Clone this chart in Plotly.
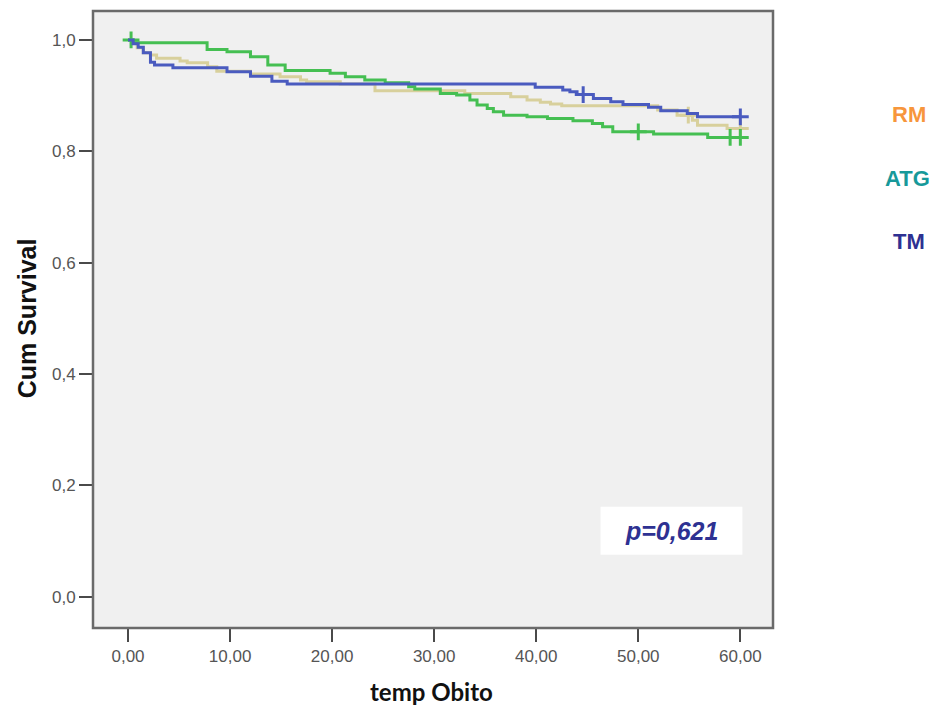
import plotly.graph_objects as go

# Kaplan-Meier step curves: time (months) at which each level starts, and cumulative survival
rm_time = [0, 0.5, 0.9, 1.5, 2.2, 2.8, 5.1, 5.8, 7.8, 8.7, 12.0, 14.9, 16.9, 17.5, 20.8,
           24.2, 33.0, 37.5, 39.1, 40.4, 41.4, 42.5, 51.9, 53.8, 55.3, 55.8, 58.7, 60.0]
rm_surv = [1.0, 0.995, 0.986, 0.977, 0.973, 0.967, 0.962, 0.959, 0.952, 0.944, 0.939, 0.934,
           0.928, 0.925, 0.921, 0.909, 0.904, 0.898, 0.892, 0.888, 0.885, 0.882, 0.874, 0.865,
           0.856, 0.847, 0.841, 0.841]
rm_cens_time = [54.9, 60.0]
rm_cens_surv = [0.865, 0.841]

atg_time = [0, 0.5, 7.75, 9.7, 12.0, 13.7, 15.4, 19.8, 21.3, 23.2, 25.2, 27.5, 28.1, 30.6,
            32.2, 33.5, 34.2, 35.2, 35.8, 36.8, 39.1, 41.1, 43.6, 45.5, 46.5, 47.5, 51.5,
            56.8, 60.0]
atg_surv = [1.0, 0.995, 0.983, 0.979, 0.970, 0.955, 0.945, 0.940, 0.934, 0.928, 0.923, 0.916,
            0.912, 0.904, 0.901, 0.892, 0.883, 0.877, 0.871, 0.865, 0.862, 0.859, 0.855, 0.850,
            0.844, 0.835, 0.831, 0.825, 0.825]
atg_cens_time = [0.3, 50.0, 59.0, 60.0]
atg_cens_surv = [1.0, 0.835, 0.825, 0.825]

tm_time = [0, 0.5, 1.0, 1.5, 2.2, 2.6, 4.4, 9.7, 12.0, 14.1, 15.6, 39.9, 42.6, 43.3, 44.0,
           45.6, 47.3, 48.5, 51.0, 52.2, 54.8, 55.8, 60.0]
tm_surv = [1.0, 0.993, 0.987, 0.977, 0.960, 0.955, 0.950, 0.943, 0.935, 0.926, 0.921, 0.915,
           0.910, 0.907, 0.902, 0.895, 0.889, 0.884, 0.879, 0.873, 0.868, 0.862, 0.862]
tm_cens_time = [44.6, 60.0]
tm_cens_surv = [0.902, 0.862]

x_ticks = [0, 10, 20, 30, 40, 50, 60]
y_ticks = [0.0, 0.2, 0.4, 0.6, 0.8, 1.0]
p_value_text = "p=0,621"

C_RM = "#d8d09c"
C_ATG = "#45bf52"
C_TM = "#4a5bbf"

fig = go.Figure()

for t, s, ct, cs, col in [
    (rm_time, rm_surv, rm_cens_time, rm_cens_surv, C_RM),
    (atg_time, atg_surv, atg_cens_time, atg_cens_surv, C_ATG),
    (tm_time, tm_surv, tm_cens_time, tm_cens_surv, C_TM),
]:
    fig.add_trace(go.Scatter(x=t, y=s, mode="lines", line=dict(color=col, width=3, shape="hv"),
                             showlegend=False, hoverinfo="skip"))
    fig.add_trace(go.Scatter(x=ct, y=cs, mode="markers",
                             marker=dict(symbol="cross-thin", size=12,
                                         line=dict(color=col, width=3)),
                             showlegend=False, hoverinfo="skip"))

tick_font = dict(family="Liberation Sans, Arial, sans-serif", size=17, color="#555555")
fig.update_xaxes(range=[-3.43, 63.2], tickvals=x_ticks, tickformat=".2f",
                 ticks="outside", ticklen=13, tickwidth=2, tickcolor="#4a4a4a",
                 tickfont=tick_font, showgrid=False, zeroline=False, showline=False)
fig.update_yaxes(range=[-0.056, 1.052], tickvals=y_ticks, tickformat=".1f",
                 ticks="outside", ticklen=13, tickwidth=2, tickcolor="#4a4a4a",
                 tickfont=tick_font, showgrid=False, zeroline=False, showline=False)

legend_font = "Liberation Sans Narrow, Liberation Sans, Arial"
annotations = [
    dict(text="<b>Cum Survival</b>", x=-0.097, y=0.502, xref="paper", yref="paper",
         xanchor="center", yanchor="middle", textangle=-90, showarrow=False,
         font=dict(family="Liberation Sans, Arial, sans-serif", size=25, color="#111111")),
    dict(text="<b>temp Obito</b>", x=0.4985, y=-0.1037, xref="paper", yref="paper",
         xanchor="center", yanchor="middle", showarrow=False,
         font=dict(family="Lato, Liberation Sans, sans-serif", size=24, color="#111111")),
    dict(text="<b>RM</b>", x=1.2, y=0.833, xref="paper", yref="paper", showarrow=False,
         xanchor="center", yanchor="middle",
         font=dict(family=legend_font, size=22, color="#f7963c")),
    dict(text="<b>ATG</b>", x=1.1985, y=0.729, xref="paper", yref="paper", showarrow=False,
         xanchor="center", yanchor="middle",
         font=dict(family=legend_font, size=22, color="#17999a")),
    dict(text="<b>TM</b>", x=1.2, y=0.627, xref="paper", yref="paper", showarrow=False,
         xanchor="center", yanchor="middle",
         font=dict(family=legend_font, size=22, color="#2e3192")),
    dict(text="<b><i>" + p_value_text + "</i></b>", x=53.3, y=0.1185, xref="x", yref="y",
         xanchor="center", yanchor="middle", showarrow=False,
         font=dict(family="Liberation Sans, Arial", size=25, color="#2e3192")),
]

shapes = [
    dict(type="rect", xref="x", yref="y", x0=46.3, x1=60.2, y0=0.0754, y1=0.1616,
         fillcolor="white", line=dict(width=0), layer="below"),
    dict(type="rect", xref="paper", yref="paper", x0=0, x1=1, y0=0, y1=1,
         line=dict(color="#6a6a6a", width=2.5), fillcolor="rgba(0,0,0,0)"),
]

fig.update_layout(
    width=936, height=710,
    margin=dict(l=93, r=163, t=11, b=82),
    paper_bgcolor="white", plot_bgcolor="#f0f0f0",
    separators=",.",
    annotations=annotations, shapes=shapes,
)

fig.write_html("out.html")
